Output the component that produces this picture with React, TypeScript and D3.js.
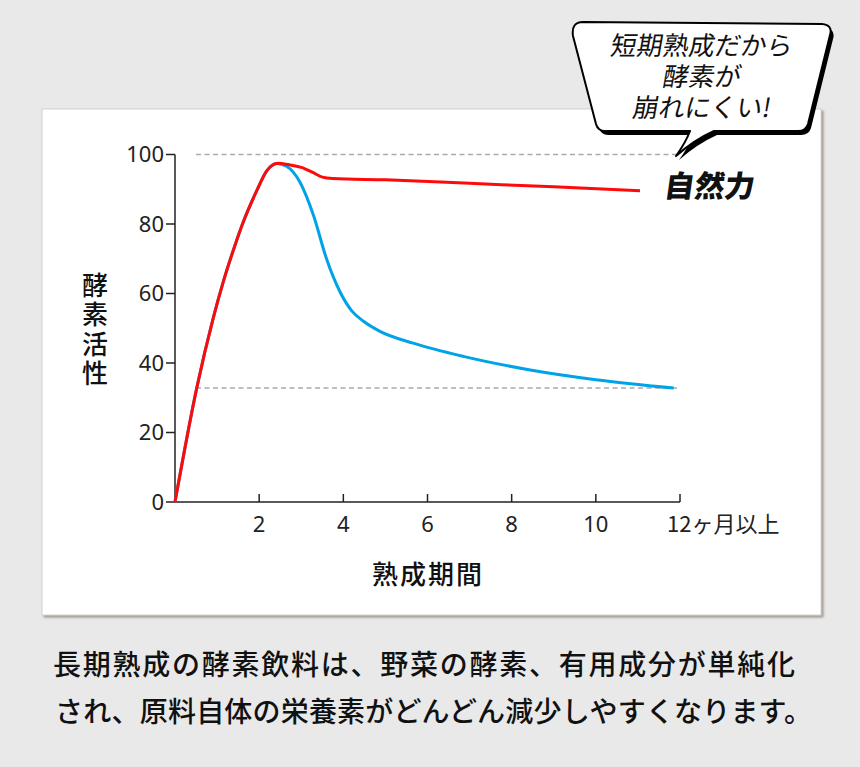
import React from 'react';
import * as d3 from 'd3';

// values
const yTicks = [0, 20, 40, 60, 80, 100];
const xTicks = [2, 4, 6, 8, 10];
const lastTickLabel = '12ヶ月以上';
const yTitle = '酵素活性';
const xTitle = '熟成期間';

const riseX = [0, 0.52, 0.91, 1.15, 1.39, 1.62, 1.94, 2.18];
const riseY = [0, 33, 53, 63.5, 72.6, 80.5, 89.5, 95.3];

const longAgedX = [2.42, 2.65, 2.97, 3.29, 3.6, 3.92, 4.2, 4.48, 4.87, 5.66, 6.85, 8.44, 10, 11.85];
const longAgedY = [97.4, 96.6, 92, 82.5, 70, 60.5, 55, 52, 49.1, 45.7, 41.9, 38, 35.2, 32.8];

const shortAgedX = [2.45, 2.69, 3.0, 3.25, 3.5, 3.75, 5, 7, 9, 11.05];
const shortAgedY = [97.5, 97.1, 96.3, 95, 93.5, 93.1, 92.7, 91.7, 90.7, 89.6];

const refLines = [100, 32.8];
const bubbleLines = ['短期熟成だから', '酵素が', '崩れにくい!'];
const noteLines = [
  '長期熟成の酵素飲料は、野菜の酵素、有用成分が単純化',
  'され、原料自体の栄養素がどんどん減少しやすくなります。',
];

const W = 860;
const H = 767;
const margin = {top: 154.5, right: 180, bottom: 265, left: 175};
const jp = '"Noto Sans CJK JP", "Noto Sans", sans-serif';
const num = '"Noto Sans", "Open Sans", sans-serif';

const App = () => {
  const x = d3.scaleLinear().domain([0, 12]).range([margin.left, W - margin.right]);
  const y = d3.scaleLinear().domain([0, 100]).range([H - margin.bottom, margin.top]);

  const line = d3.line<[number, number]>()
    .x(d => x(d[0]))
    .y(d => y(d[1]))
    .curve(d3.curveMonotoneX);

  const rise = riseX.map((v, i) => [v, riseY[i]] as [number, number]);
  const blue = line(rise.concat(longAgedX.map((v, i) => [v, longAgedY[i]] as [number, number]))) || '';
  const red = line(rise.concat(shortAgedX.map((v, i) => [v, shortAgedY[i]] as [number, number]))) || '';

  const x0 = x(0);
  const x12 = x(12);
  const y0 = y(0);

  const bubble = 'M583,22 L822,24 Q833,25 830,35 L808,124 Q806,131 798,131 L714,131 ' +
    'Q694,140 676,156 Q686,142 690,131 L605,131 Q598,131 596,124 L573,36 Q571,22 583,22 Z';

  return (
    <svg width={W} height={H} style={{position: 'absolute', left: 0, top: 0}}>
      <defs>
        <filter id="panelShadow" x="-5%" y="-5%" width="110%" height="110%">
          <feDropShadow dx="2" dy="2" stdDeviation="1" floodColor="#7d7366" floodOpacity="0.7" />
        </filter>
      </defs>
      <rect x={0} y={0} width={W} height={H} fill="#e9e9e9" />
      <rect x={42} y={109} width={779} height={506} fill="#fff" stroke="#d2d2d2" strokeWidth={1}
        filter="url(#panelShadow)" />

      {/* dashed reference lines */}
      {refLines.map(v => (
        <line key={v} x1={x(0.5)} x2={x(12)} y1={y(v)} y2={y(v)}
          stroke="#aaa" strokeWidth={1.5} strokeDasharray="5,3.5" />
      ))}

      {/* axes */}
      <line x1={x0} x2={x0} y1={y(100)} y2={y0} stroke="#222" strokeWidth={1.5} />
      <line x1={x0} x2={x12} y1={y0} y2={y0} stroke="#222" strokeWidth={1.5} />
      {yTicks.map(t => (
        <g key={'y' + t}>
          <line x1={x0 - 9} x2={x0} y1={y(t)} y2={y(t)} stroke="#222" strokeWidth={1.5} />
          <text x={x0 - 11} y={y(t)} dy="0.35em" textAnchor="end" fontFamily={num}
            fontSize={22} fill="#222">{t}</text>
        </g>
      ))}
      {[...xTicks, 12].map(t => (
        <line key={'xt' + t} x1={x(t)} x2={x(t)} y1={y0 - 8} y2={y0} stroke="#222" strokeWidth={1.5} />
      ))}
      {xTicks.map(t => (
        <text key={'xl' + t} x={x(t)} y={y0 + 30} textAnchor="middle" fontFamily={num}
          fontSize={22} fill="#222">{t}</text>
      ))}
      <text x={x12 - 13} y={y0 + 30} fontFamily={jp} fontSize={22} fill="#222">{lastTickLabel}</text>

      {/* axis titles */}
      <text x={95} y={272} writingMode="vertical-rl" fontFamily={jp} fontSize={26} fontWeight={500}
        fill="#111" letterSpacing={3.5}>{yTitle}</text>
      <text x={428} y={575} dy="0.35em" textAnchor="middle" fontFamily={jp} fontSize={26}
        fontWeight={500} fill="#111" letterSpacing={2}>{xTitle}</text>

      {/* curves */}
      <path d={blue} fill="none" stroke="#00a3e6" strokeWidth={3} />
      <path d={red} fill="none" stroke="#ff0a0a" strokeWidth={3} />

      {/* logo */}
      <text x={710} y={187} dy="0.35em" textAnchor="middle" fontFamily={jp} fontSize={30}
        fontWeight={900} fill="#111" transform="skewX(-8) translate(26,0)">自然力</text>

      {/* speech bubble */}
      <path d={bubble} transform="translate(3,4)" fill="#000" />
      <path d={bubble} fill="#fff" stroke="#000" strokeWidth={2} strokeLinejoin="round" />
      {bubbleLines.map((s, i) => (
        <text key={s} x={702} y={46 + i * 31} dy="0.35em" textAnchor="middle" fontFamily={jp}
          fontSize={26} fill="#111"
          transform={`skewX(-10) translate(${(46 + i * 31) * Math.tan(10 * Math.PI / 180)},0)`}>{s}</text>
      ))}

      {/* note below */}
      {noteLines.map((s, i) => (
        <text key={i} x={i === 0 ? 53 : 55} y={665 + i * 47} dy="0.35em" fontFamily={jp} fontSize={28}
          fontWeight={500} fill="#111" textLength={i === 0 ? 742 : 757} lengthAdjust="spacing">{s}</text>
      ))}
    </svg>
  );
};

export default App;
